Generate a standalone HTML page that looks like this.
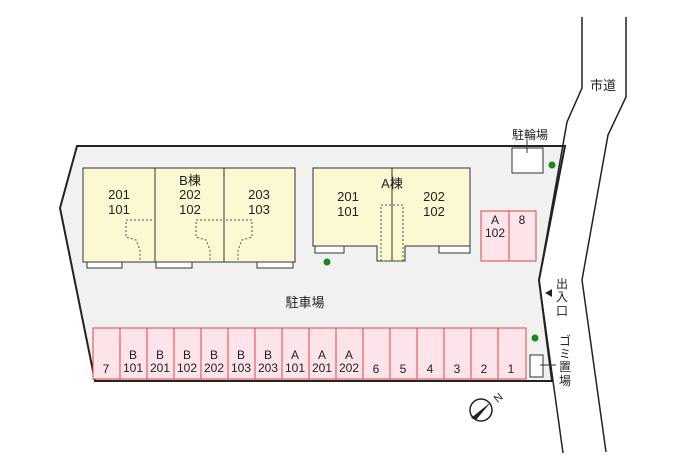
<!DOCTYPE html>
<html><head><meta charset="utf-8"><style>
html,body{margin:0;padding:0;background:#fff;}
text{font-family:"Liberation Sans","Noto Sans CJK JP",sans-serif;fill:#222;}
</style></head><body>
<svg width="700" height="466" viewBox="0 0 700 466" xmlns="http://www.w3.org/2000/svg">
<!-- lot -->
<polygon points="77,146 565,146 539,280 552,381 95,381 60,208" fill="#f1f1f1" stroke="#222" stroke-width="2"/>
<!-- road -->
<polyline points="582,17 582,88 567,122 539,280 563,453" fill="none" stroke="#222" stroke-width="1.5"/>
<polyline points="626,17 626,97 608,135 582,280 606,452" fill="none" stroke="#222" stroke-width="1.5"/>
<text x="603" y="90" font-size="13" text-anchor="middle">市道</text>
<!-- B building -->
<g stroke="#333" stroke-width="1">
<rect x="87" y="261" width="35" height="7" fill="#fff"/>
<rect x="156" y="261" width="36" height="7" fill="#fff"/>
<rect x="257" y="261" width="36" height="7" fill="#fff"/>
<rect x="83" y="168" width="212" height="94" fill="#fbf8d2"/>
<line x1="155" y1="168" x2="155" y2="262"/>
<line x1="224" y1="168" x2="224" y2="262"/>
</g>
<g fill="none" stroke="#555" stroke-width="1" stroke-dasharray="2,2">
<polyline points="152,220 126,220 126,237 136,240 140,250 140,262"/>
<polyline points="222,220 196,220 196,237 206,240 210,250 210,262"/>
<polyline points="226,220 252,220 252,237 242,240 238,250 238,262"/>
</g>
<text x="190" y="185" font-size="13" text-anchor="middle">B棟</text>
<g font-size="13" text-anchor="middle">
<text x="119" y="199">201</text><text x="119" y="214">101</text>
<text x="190" y="199">202</text><text x="190" y="214">102</text>
<text x="259" y="199">203</text><text x="259" y="214">103</text>
</g>
<!-- A building -->
<g stroke="#333" stroke-width="1">
<rect x="315" y="245" width="29" height="8" fill="#fff"/>
<rect x="439" y="245" width="31" height="8" fill="#fff"/>
<polygon points="313,168 470,168 470,246 405,246 405,261 377,261 377,246 313,246" fill="#fbf8d2"/>
<line x1="392" y1="168" x2="392" y2="261"/>
</g>
<rect x="381" y="205" width="22" height="56" fill="none" stroke="#555" stroke-dasharray="2,2"/>
<text x="392" y="188" font-size="13" text-anchor="middle">A棟</text>
<g font-size="13" text-anchor="middle">
<text x="348" y="201">201</text><text x="348" y="216">101</text>
<text x="434" y="201">202</text><text x="434" y="216">102</text>
</g>
<circle cx="327" cy="262" r="3.5" fill="#1a8a1a"/>
<!-- bike -->
<rect x="512" y="148" width="31" height="25" fill="#fff" stroke="#333"/>
<line x1="527" y1="140" x2="527" y2="153" stroke="#333"/>
<text x="530" y="139" font-size="12" text-anchor="middle">駐輪場</text>
<circle cx="552" cy="165" r="3.5" fill="#1a8a1a"/>
<!-- A102 / 8 -->
<rect x="481" y="211" width="55" height="50" fill="#fde4ea" stroke="#d44"/>
<line x1="509" y1="211" x2="509" y2="261" stroke="#d44"/>
<g font-size="12" text-anchor="middle">
<text x="495" y="224">A</text><text x="495" y="237">102</text><text x="522" y="224">8</text>
</g>
<text x="305" y="307" font-size="13" text-anchor="middle">駐車場</text>
<!-- entrance -->
<g font-size="12" text-anchor="middle">
<text x="562" y="288">出</text><text x="562" y="301">入</text><text x="562" y="315">口</text>
<text x="565" y="345">ゴ</text><text x="565" y="358">ミ</text><text x="565" y="371">置</text><text x="565" y="385">場</text>
</g>
<polygon points="545,293 552,289 552,297" fill="#222"/>
<circle cx="535" cy="338" r="3.5" fill="#1a8a1a"/>
<rect x="530" y="355" width="13" height="22" fill="#fff" stroke="#333"/>
<line x1="540" y1="365" x2="556" y2="365" stroke="#333"/>
<!-- bottom parking -->
<rect x="93" y="328" width="433" height="51" fill="#fde4ea" stroke="#d44"/>
<g stroke="#d44">
<line x1="120" y1="328" x2="120" y2="379"/><line x1="147" y1="328" x2="147" y2="379"/>
<line x1="174" y1="328" x2="174" y2="379"/><line x1="201" y1="328" x2="201" y2="379"/>
<line x1="228" y1="328" x2="228" y2="379"/><line x1="255" y1="328" x2="255" y2="379"/>
<line x1="282" y1="328" x2="282" y2="379"/><line x1="309" y1="328" x2="309" y2="379"/>
<line x1="336" y1="328" x2="336" y2="379"/><line x1="363" y1="328" x2="363" y2="379"/>
<line x1="390" y1="328" x2="390" y2="379"/><line x1="417" y1="328" x2="417" y2="379"/>
<line x1="444" y1="328" x2="444" y2="379"/><line x1="471" y1="328" x2="471" y2="379"/>
<line x1="498" y1="328" x2="498" y2="379"/>
</g>
<g font-size="12" text-anchor="middle">
<text x="106" y="373">7</text>
<text x="133" y="359">B</text><text x="133" y="372">101</text>
<text x="160" y="359">B</text><text x="160" y="372">201</text>
<text x="187" y="359">B</text><text x="187" y="372">102</text>
<text x="214" y="359">B</text><text x="214" y="372">202</text>
<text x="241" y="359">B</text><text x="241" y="372">103</text>
<text x="268" y="359">B</text><text x="268" y="372">203</text>
<text x="295" y="359">A</text><text x="295" y="372">101</text>
<text x="322" y="359">A</text><text x="322" y="372">201</text>
<text x="349" y="359">A</text><text x="349" y="372">202</text>
<text x="376" y="373">6</text><text x="403" y="373">5</text><text x="430" y="373">4</text>
<text x="457" y="373">3</text><text x="484" y="373">2</text><text x="511" y="373">1</text>
</g>
<!-- compass -->
<circle cx="481" cy="410" r="11" fill="#fff" stroke="#222" stroke-width="1.5"/>
<polygon points="471,418 491,402 476,420" fill="#222"/>
<text x="495" y="404" font-size="11" transform="rotate(-40 495 400)">N</text>
</svg>
</body></html>
